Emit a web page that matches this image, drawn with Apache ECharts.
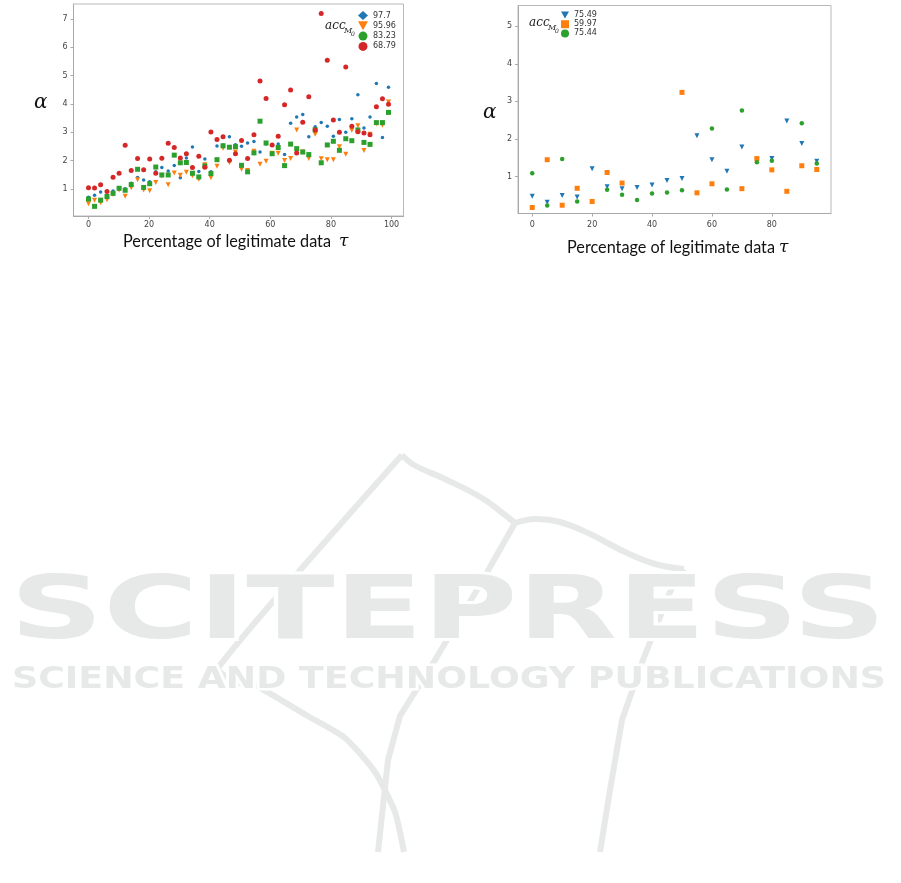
<!DOCTYPE html>
<html><head><meta charset="utf-8">
<script src="https://cdn.jsdelivr.net/npm/echarts@6/dist/echarts.min.js"></script>
<style>html,body{margin:0;padding:0;background:#fff}#c{width:901px;height:883px}</style>
</head><body><div id="c"></div><script>
// ---------- Left panel data (x = percentage of legitimate data) ----------
const leftX = [0,2.0,4.0,6.1,8.1,10.1,12.1,14.1,16.2,18.2,20.2,22.2,24.2,26.3,28.3,30.3,32.3,34.3,36.4,38.4,40.4,42.4,44.4,46.5,48.5,
               50.5,52.5,54.6,56.6,58.6,60.6,62.6,64.7,66.7,68.7,70.7,72.7,74.8,76.8,78.8,80.8,82.8,84.9,86.9,88.9,90.9,92.9,95.0,97.0,99.0];
const leftBlue = [0.70,0.77,0.89,0.70,0.92,1.00,1.00,1.20,1.40,1.31,1.25,1.60,1.75,1.63,1.82,1.39,2.09,2.48,1.61,2.05,1.60,2.51,2.55,2.84,2.56,
                  2.50,2.62,2.67,2.30,2.58,2.55,2.58,2.21,3.32,3.54,3.63,2.84,3.19,3.34,3.21,2.86,3.45,3.00,3.48,4.32,3.15,3.54,4.72,2.81,4.59];
const leftOrange = [0.47,0.60,0.51,0.61,0.80,0.96,0.74,1.04,1.32,0.96,0.93,1.22,1.45,1.14,1.56,1.48,1.59,1.46,1.34,1.85,1.39,1.80,2.43,1.93,2.30,
                    1.69,1.65,2.33,1.87,1.97,2.26,2.26,2.00,2.07,3.08,2.30,2.07,2.93,2.06,2.03,2.03,2.49,2.22,3.07,3.23,2.35,2.93,3.30,3.25,4.07];
const leftGreen = [0.64,0.38,0.60,0.73,0.84,1.02,0.95,1.15,1.69,1.05,1.18,1.77,1.49,1.49,2.19,1.92,1.93,1.55,1.42,1.81,1.54,2.03,2.52,2.47,2.49,
                   1.83,1.60,2.27,3.39,2.62,2.24,2.46,1.82,2.58,2.42,2.30,2.21,3.09,1.92,2.55,2.68,2.36,2.77,2.70,3.08,2.64,2.57,3.34,3.34,3.70];
const leftRed = [1.04,1.03,1.14,0.91,1.41,1.55,2.54,1.65,2.07,1.67,2.05,1.55,2.08,2.61,2.46,2.09,2.24,1.75,2.15,1.76,3.01,2.74,2.84,2.01,2.24,
                 2.71,2.07,2.91,4.81,4.19,2.55,2.86,3.97,4.49,2.27,3.35,4.25,3.08,7.19,5.54,3.43,3.00,5.30,3.21,3.02,2.97,2.91,3.90,4.18,3.99];
const leftNames = ['97.7','95.96','83.23','68.79'];
const leftXTicks = [0,20,40,60,80,100];
const leftYTicks = [1,2,3,4,5,6,7];

// ---------- Right panel data ----------
const rightX = [0,5,10,15,20,25,30,35,40,45,50,55,60,65,70,75,80,85,90,95];
const rightBlue = [0.48,0.32,0.50,0.46,1.21,0.73,0.68,0.71,0.78,0.90,0.95,2.09,1.45,1.14,1.79,1.45,1.48,2.48,1.88,1.41];
const rightOrange = [0.18,1.45,0.24,0.69,0.34,1.11,0.83,null,null,null,3.24,0.57,0.81,null,0.68,1.48,1.18,0.61,1.29,1.19];
const rightGreen = [1.09,0.23,1.47,0.34,null,0.65,0.52,0.38,0.55,0.58,0.64,null,2.28,0.66,2.76,1.38,1.42,null,2.42,1.35];
const rightNames = ['75.49','59.97','75.44'];
const rightXTicks = [0,20,40,60,80];
const rightYTicks = [1,2,3,4,5];

const xLabel = 'Percentage of legitimate data';
const wm1 = 'SCITEPRESS';
const wm2 = 'SCIENCE AND TECHNOLOGY PUBLICATIONS';

const C = {blue:'#1f77b4', orange:'#ff7f0e', green:'#2ca02c', red:'#d62728'};
const TRI_DOWN = 'path://M0,0L10,0L5,9Z';

function pts(xs, ys){ const o=[]; xs.forEach((x,i)=>{ if(ys[i]!=null) o.push([x,ys[i]]); }); return o; }
function measure(text, font){ const cv=document.createElement('canvas').getContext('2d'); cv.font=font; return cv.measureText(text).width; }

const axisGray = '#a9a9a9';
function xAx(g,min,max,ticks,margin){ return {gridIndex:g,type:'value',min,max,
  axisLine:{show:true,onZero:false,lineStyle:{color:axisGray,width:1}},
  axisTick:{show:true,customValues:ticks,length:3,lineStyle:{color:axisGray}},
  axisLabel:{customValues:ticks,fontSize:8,color:'#444',margin:margin,fontFamily:'DejaVu Sans'},
  splitLine:{show:false}}; }
function yAx(g,min,max,ticks){ return {gridIndex:g,type:'value',min,max,
  axisLine:{show:true,onZero:false,lineStyle:{color:axisGray,width:1}},
  axisTick:{show:true,customValues:ticks,length:3,lineStyle:{color:axisGray}},
  axisLabel:{customValues:ticks,fontSize:8,color:'#444',margin:6,fontFamily:'DejaVu Sans'},
  splitLine:{show:false}}; }

const labFont = '17px Lato';
const labScale = 208 / measure(xLabel, labFont);

const wm1Font = 'bold 88px "DejaVu Sans"';
const wm1Scale = 876 / measure(wm1, wm1Font);
const wm2Font = 'bold 30px "DejaVu Sans"';
const wm2Scale = 874 / measure(wm2, wm2Font);
const wmCol = '#e7e8e8';

function txt(x,y,text,font,opts){ return {type:'text',x,y,silent:true,style:Object.assign({text,font,fill:'#000',align:'left',verticalAlign:'middle'},opts||{})}; }
function stxt(x,y,sx,text,font,opts,z){ return {type:'text',z:z||10,x,y,scaleX:sx,scaleY:1,originX:0,originY:0,silent:true,style:Object.assign({text,font,fill:'#111',align:'left',verticalAlign:'middle'},opts||{})}; }

const graphics = [
  // book logo (watermark)
  {type:'polyline',z:1,shape:{points:[[402,455],[218,668],[236,682],[258,687],[306,715],[345,738],[375,772],[395,812],[404,852]],smooth:0.2},style:{stroke:wmCol,lineWidth:6,fill:null}},
  {type:'polyline',z:1,shape:{points:[[402,455],[414,465],[445,479],[482,498],[505,515],[515,523]],smooth:0.4},style:{stroke:wmCol,lineWidth:6,fill:null}},
  {type:'polyline',z:1,shape:{points:[[515,523],[535,519],[560,522],[590,534],[625,552],[655,564],[684,569]],smooth:0.4},style:{stroke:wmCol,lineWidth:6,fill:null}},
  {type:'polyline',z:1,shape:{points:[[684,569],[670,592],[643,660],[622,720],[610,790],[600,852]]},style:{stroke:wmCol,lineWidth:6,fill:null}},
  {type:'polyline',z:1,shape:{points:[[515,523],[477,590],[435,660],[400,716],[388,760],[378,852]]},style:{stroke:wmCol,lineWidth:6,fill:null}},
  stxt(10,615,wm1Scale,wm1,wm1Font,{fill:wmCol,stroke:'#fff',lineWidth:6},2),
  stxt(12,680,wm2Scale,wm2,wm2Font,{fill:wmCol,stroke:'#fff',lineWidth:5},2),
  // axis titles
  txt(34,103,'α','italic 20px "DejaVu Serif"',{fill:'#111'}),
  txt(483,113,'α','italic 20px "DejaVu Serif"',{fill:'#111'}),
  stxt(123,242,labScale,xLabel,labFont),
  txt(339,242,'τ','italic 17px "DejaVu Serif"',{fill:'#111'}),
  stxt(567,248,labScale,xLabel,labFont),
  txt(779,248,'τ','italic 17px "DejaVu Serif"',{fill:'#111'}),
  // legend titles acc_{M_0}
  txt(325,26,'acc','italic 12px "DejaVu Serif"',{fill:'#222'}),
  txt(344,31,'M','italic 8px "DejaVu Serif"',{fill:'#222'}),
  txt(351,34,'0','italic 6px "DejaVu Serif"',{fill:'#222'}),
  txt(529,23,'acc','italic 12px "DejaVu Serif"',{fill:'#222'}),
  txt(548,28,'M','italic 8px "DejaVu Serif"',{fill:'#222'}),
  txt(555,31,'0','italic 6px "DejaVu Serif"',{fill:'#222'})
];

const chart = echarts.init(document.getElementById('c'));
chart.setOption({
  animation:false,
  backgroundColor:'#fff',
  grid:[
    {left:73.5,top:4,width:330,height:212,show:true,borderColor:'#b8b8b8',borderWidth:1,backgroundColor:'transparent'},
    {left:518,top:5.5,width:313,height:208,show:true,borderColor:'#b8b8b8',borderWidth:1,backgroundColor:'transparent'}
  ],
  xAxis:[xAx(0,-4.95,103.95,leftXTicks,5), xAx(1,-4.75,99.75,rightXTicks,7)],
  yAxis:[yAx(0,0.04,7.53,leftYTicks), yAx(1,0.02,5.55,rightYTicks)],
  legend:[
    {orient:'vertical',left:358,top:11,padding:0,itemWidth:10,itemHeight:9,itemGap:1.3,selectedMode:false,
     textStyle:{fontSize:8,color:'#333',fontFamily:'DejaVu Sans'},
     data:[{name:leftNames[0],icon:'diamond'},{name:leftNames[1],icon:TRI_DOWN},{name:leftNames[2],icon:'circle'},{name:leftNames[3],icon:'circle'}]},
    {orient:'vertical',left:561,top:11,padding:0,itemWidth:8,itemHeight:8,itemGap:1.2,selectedMode:false,
     textStyle:{fontSize:8,color:'#333',fontFamily:'DejaVu Sans'},
     data:[{name:rightNames[0],icon:TRI_DOWN},{name:rightNames[1],icon:'rect'},{name:rightNames[2],icon:'circle'}]}
  ],
  series:[
    {type:'scatter',name:leftNames[0],xAxisIndex:0,yAxisIndex:0,data:pts(leftX,leftBlue),symbol:'circle',symbolSize:3.5,itemStyle:{color:C.blue,opacity:1}},
    {type:'scatter',name:leftNames[1],xAxisIndex:0,yAxisIndex:0,data:pts(leftX,leftOrange),symbol:TRI_DOWN,symbolSize:[5,5],itemStyle:{color:C.orange,opacity:1}},
    {type:'scatter',name:leftNames[2],xAxisIndex:0,yAxisIndex:0,data:pts(leftX,leftGreen),symbol:'rect',symbolSize:5,itemStyle:{color:C.green,opacity:1}},
    {type:'scatter',name:leftNames[3],xAxisIndex:0,yAxisIndex:0,data:pts(leftX,leftRed),symbol:'circle',symbolSize:5,itemStyle:{color:C.red,opacity:1}},
    {type:'scatter',name:rightNames[0],xAxisIndex:1,yAxisIndex:1,data:pts(rightX,rightBlue),symbol:TRI_DOWN,symbolSize:[5,5],itemStyle:{color:C.blue,opacity:1}},
    {type:'scatter',name:rightNames[1],xAxisIndex:1,yAxisIndex:1,data:pts(rightX,rightOrange),symbol:'rect',symbolSize:5,itemStyle:{color:C.orange,opacity:1}},
    {type:'scatter',name:rightNames[2],xAxisIndex:1,yAxisIndex:1,data:pts(rightX,rightGreen),symbol:'circle',symbolSize:4.5,itemStyle:{color:C.green,opacity:1}}
  ],
  graphic:graphics
});
</script></body></html>
